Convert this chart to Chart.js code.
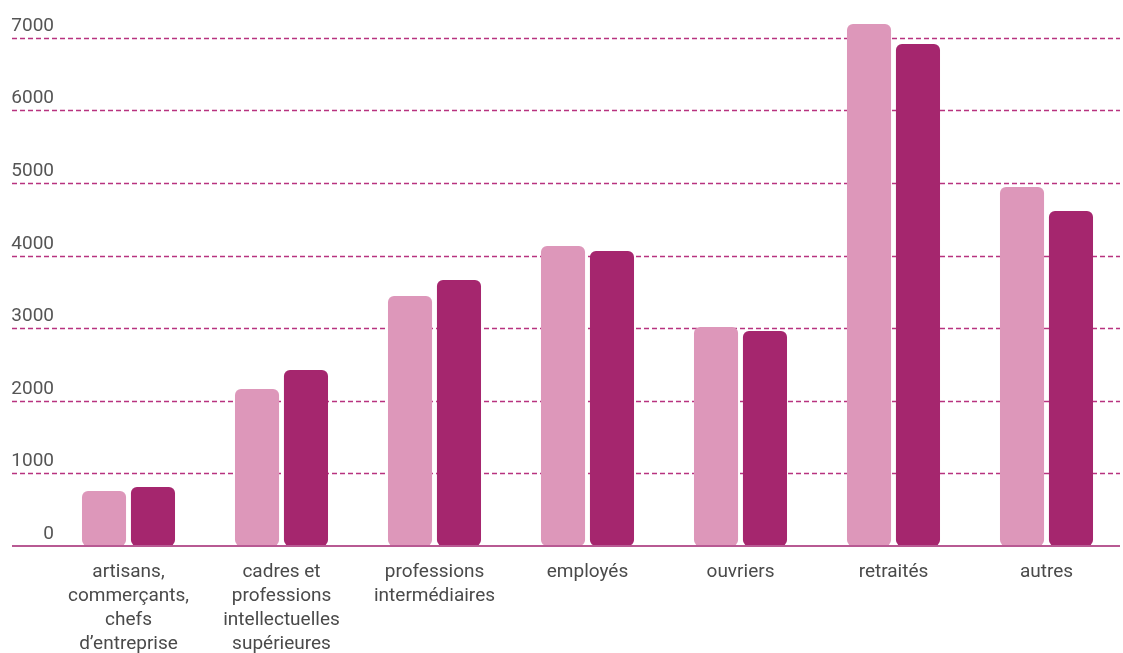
<!DOCTYPE html>
<html>
<head>
<meta charset="utf-8">
<script src="https://cdn.jsdelivr.net/npm/chart.js@4"></script>
<style>
  html, body { margin: 0; padding: 0; background: #fff; }
  #wrap { width: 1123px; height: 653px; position: relative; }
</style>
</head>
<body>
<div id="wrap"><canvas id="cat"></canvas></div>
<script>
// categories socio-professionnelles
var categories = [
  ["artisans,", "commerçants,", "chefs", "d’entreprise"],
  ["cadres et", "professions", "intellectuelles", "supérieures"],
  ["professions", "intermédiaires"],
  ["employés"],
  ["ouvriers"],
  ["retraités"],
  ["autres"]
];
var serieA = [757, 2163, 3443, 4132, 3016, 7190, 4945];
var serieB = [812, 2424, 3664, 4063, 2961, 6915, 4614];
var yTicks = [0, 1000, 2000, 3000, 4000, 5000, 6000, 7000];

// grille en pointillés + étiquettes au-dessus des lignes, sur toute la largeur
var gridPlugin = {
  id: "dashGrid",
  beforeDatasetsDraw: function(chart) {
    var ctx = chart.ctx;
    var y = chart.scales.y;
    ctx.save();
    yTicks.forEach(function(v) {
      var py = Math.round(y.getPixelForValue(v)) + 0.5;
      if (v > 0) {
        ctx.strokeStyle = "#b8337f";
        ctx.lineWidth = 1.3;
        ctx.setLineDash([5, 3]);
        ctx.beginPath();
        ctx.moveTo(12, py);
        ctx.lineTo(1120, py);
        ctx.stroke();
      }
      ctx.fillStyle = "#555";
      ctx.font = "19px Roboto";
      ctx.textAlign = "right";
      ctx.textBaseline = "alphabetic";
      ctx.fillText(String(v), 54, py - 8);
    });
    ctx.restore();
  },
  afterDatasetsDraw: function(chart) {
    var ctx = chart.ctx;
    var py = chart.scales.y.getPixelForValue(0);
    ctx.save();
    ctx.strokeStyle = "#b85a93";
    ctx.lineWidth = 2;
    ctx.beginPath();
    ctx.moveTo(12, py);
    ctx.lineTo(1120, py);
    ctx.stroke();
    ctx.restore();
  }
};

new Chart(document.getElementById("cat"), {
  type: "bar",
  data: {
    labels: categories,
    datasets: [{
      data: serieA,
      backgroundColor: "#dd97ba",
      borderRadius: 6,
      borderSkipped: false,
      categoryPercentage: 0.64,
      barPercentage: 0.9
    }, {
      data: serieB,
      backgroundColor: "#a5266e",
      borderRadius: 6,
      borderSkipped: false,
      categoryPercentage: 0.64,
      barPercentage: 0.9
    }]
  },
  options: {
    responsive: true,
    maintainAspectRatio: false,
    animation: false,
    layout: { padding: { left: 52, top: 0, right: 0, bottom: 0 } },
    plugins: { legend: { display: false }, tooltip: { enabled: false } },
    scales: {
      x: {
        grid: { display: false },
        border: { display: false },
        ticks: {
          color: "#4a4a4a",
          font: { family: "Roboto", size: 19, lineHeight: 1.26 },
          padding: 6,
          maxRotation: 0,
          autoSkip: false
        },
        afterFit: function(s) { s.height = 107; }
      },
      y: {
        display: false,
        min: 0,
        max: 7520
      }
    }
  },
  plugins: [gridPlugin]
});
</script>
</body>
</html>
